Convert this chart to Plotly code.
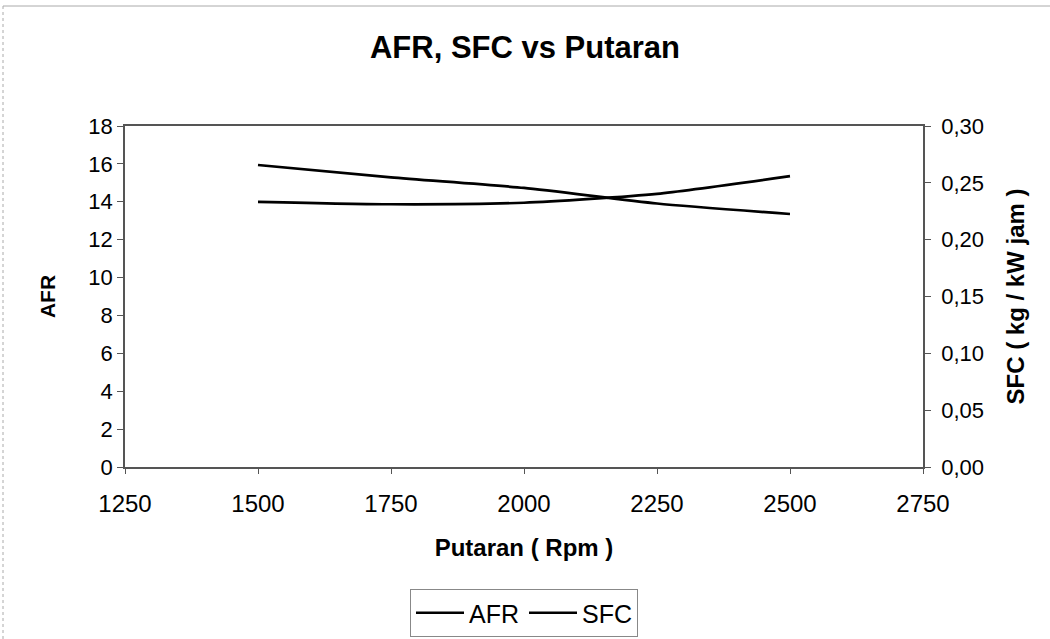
import plotly.graph_objects as go

rpm = [1500, 1750, 2000, 2250, 2500]
afr = [14.0, 13.87, 13.95, 14.42, 15.35]
sfc = [0.2657, 0.2548, 0.2455, 0.2318, 0.2226]

x_ticks = [1250, 1500, 1750, 2000, 2250, 2500, 2750]

FONT = "Liberation Sans, Arial, sans-serif"

fig = go.Figure()
fig.add_trace(go.Scatter(x=rpm, y=afr, name="AFR", mode="lines",
                         line=dict(color="black", width=2.7, shape="spline", smoothing=0.6)))
fig.add_trace(go.Scatter(x=rpm, y=sfc, name="SFC", mode="lines", yaxis="y2",
                         line=dict(color="black", width=2.7, shape="spline", smoothing=0.6)))

L, R, T, B = 125, 127, 126, 172
W, H = 1050, 639
pw = W - L - R
ph = H - T - B

def px_to_paper_x(px):
    return (px - L) / pw

def px_to_paper_y(py):
    return (H - B - py) / ph

fig.update_layout(
    width=W, height=H,
    margin=dict(l=L, r=R, t=T, b=B, autoexpand=False),
    paper_bgcolor="white", plot_bgcolor="white",
    separators=",.",
    font=dict(family=FONT, color="black"),
    title=dict(text="<b>AFR, SFC vs Putaran</b>", x=0.5, xanchor="center",
               y=1 - 47 / H, yanchor="middle", font=dict(size=31, family=FONT)),
    xaxis=dict(range=[1250, 2750], tickvals=x_ticks, ticks="outside", ticklen=5,
               tickcolor="#555", linecolor="#555", linewidth=1.5, mirror=True,
               showgrid=False, zeroline=False, tickfont=dict(size=24),
               ticklabelstandoff=9, automargin=False,
               title=dict(text="<b>Putaran ( Rpm )</b>", font=dict(size=24), standoff=24)),
    yaxis=dict(range=[0, 18], dtick=2, ticks="outside", ticklen=6, tickcolor="#555",
               linecolor="#555", linewidth=1.5, showgrid=False, zeroline=False,
               tickfont=dict(size=22), automargin=False,
               title=dict(text="<b>AFR</b>", font=dict(size=21), standoff=27)),
    yaxis2=dict(range=[0, 0.30], dtick=0.05, tickformat=".2f", overlaying="y", side="right",
                ticks="outside", ticklen=6, tickcolor="#555", linecolor="#555", linewidth=1.5,
                showgrid=False, zeroline=False, tickfont=dict(size=22),
                ticklabelstandoff=6, automargin=False,
                title=dict(text="<b>SFC ( kg / kW jam )</b>", font=dict(size=24), standoff=24)),
    showlegend=True,
    legend=dict(orientation="h", xref="container", yref="container",
                x=524 / W, xanchor="center",
                y=(H - 613) / H, yanchor="middle",
                itemwidth=48,
                bordercolor="#888", borderwidth=1, font=dict(size=25)),
    shapes=[
        dict(type="line", xref="paper", yref="paper",
             x0=px_to_paper_x(3), x1=px_to_paper_x(1050), y0=px_to_paper_y(6), y1=px_to_paper_y(6),
             line=dict(color="#aaa", width=1)),
        dict(type="line", xref="paper", yref="paper",
             x0=px_to_paper_x(3), x1=px_to_paper_x(3), y0=px_to_paper_y(6), y1=px_to_paper_y(639),
             line=dict(color="#aaa", width=1, dash="dot")),
    ],
)

fig.write_html("out.html")
